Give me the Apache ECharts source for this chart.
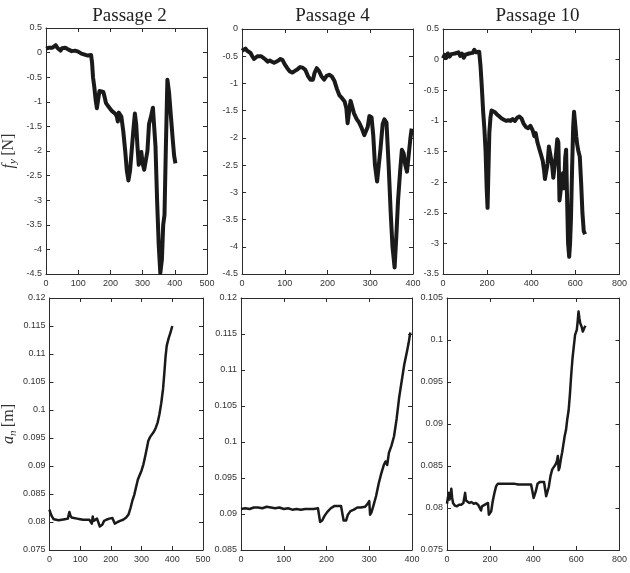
<!DOCTYPE html>
<html>
<head>
<meta charset="utf-8">
<script src="https://cdn.jsdelivr.net/npm/echarts@6/dist/echarts.min.js"></script>
<style>
  html, body { margin: 0; padding: 0; background: #fff; }
  #chart { width: 630px; height: 573px; }
</style>
</head>
<body>
<div id="chart"></div>
<script>
// panel titles (one per column)
var titles = ['Passage 2', 'Passage 4', 'Passage 10'];

// x axis ranges per column: [min, max, interval]
var xRanges = [[0, 500, 100], [0, 400, 100], [0, 800, 200]];
// y axis ranges, top row (f_y) and bottom row (a_n)
var fyRanges = [[-4.5, 0.5, 0.5], [-4.5, 0, 0.5], [-3.5, 0.5, 0.5]];
var anRanges = [[0.075, 0.12, 0.005], [0.085, 0.12, 0.005], [0.075, 0.105, 0.005]];

// f_y [N] traces, [time, force]
var fyPassage2 = [[0,0.08],[5,0.04],[10,0.1],[15,0.06],[20,0.1],[25,0.08],[30,0.15],[35,0.1],[40,0.08],[45,0.04],
  [50,0.09],[55,0.05],[60,0.1],[65,0.12],[70,0.06],[75,0.08],[80,0.03],[85,0.07],[90,0.04],[95,0.06],[100,0.02],
  [105,0.04],[110,-0.02],[115,0.01],[120,-0.04],[125,-0.02],[130,-0.06],[135,-0.03],[140,-0.05],[143,-0.2],[146,-0.5],
  [150,-0.7],[154,-0.95],[158,-1.13],[162,-0.95],[166,-0.78],[172,-0.82],[178,-0.8],[182,-0.9],[186,-1.02],[192,-1.08],
  [198,-1.1],[204,-1.18],[210,-1.2],[216,-1.25],[220,-1.3],[223,-1.4],[226,-1.22],[230,-1.2],[234,-1.3],[240,-1.6],
  [246,-2.0],[251,-2.4],[256,-2.6],[261,-2.4],[266,-2.0],[271,-1.6],[276,-1.24],[280,-1.45],[284,-1.9],[288,-2.28],
  [292,-2.1],[296,-2.02],[300,-2.25],[305,-2.38],[310,-2.35],[315,-2.0],[320,-1.45],[326,-1.3],[332,-1.12],[336,-1.15],
  [340,-1.9],[345,-3.0],[350,-3.9],[355,-4.48],[360,-4.2],[364,-3.5],[368,-3.3],[372,-2.0],[377,-0.55],[382,-0.8],
  [388,-1.3],[394,-1.8],[398,-2.1],[402,-2.25]];
var fyPassage4 = [[0,-0.4],[4,-0.37],[8,-0.36],[12,-0.4],[16,-0.42],[20,-0.44],[24,-0.5],[28,-0.55],[32,-0.55],[36,-0.5],
  [40,-0.52],[45,-0.5],[50,-0.53],[55,-0.56],[60,-0.6],[65,-0.58],[70,-0.6],[75,-0.62],[80,-0.6],[85,-0.58],[90,-0.55],
  [95,-0.57],[100,-0.65],[106,-0.72],[112,-0.78],[118,-0.8],[124,-0.77],[130,-0.74],[136,-0.7],[142,-0.71],[148,-0.75],
  [154,-0.86],[160,-0.93],[166,-0.93],[170,-0.8],[175,-0.72],[180,-0.77],[186,-0.87],[192,-0.93],[198,-0.86],[204,-0.84],
  [210,-0.87],[216,-0.95],[222,-1.1],[228,-1.22],[234,-1.27],[240,-1.33],[244,-1.45],[247,-1.73],[250,-1.55],[254,-1.32],
  [258,-1.35],[262,-1.55],[268,-1.65],[274,-1.72],[280,-1.82],[286,-1.95],[290,-1.97],[294,-1.8],[298,-1.6],[303,-1.62],
  [307,-1.95],[311,-2.5],[316,-2.8],[320,-2.5],[324,-2.2],[329,-1.75],[333,-1.66],[338,-1.72],[343,-2.5],[348,-3.4],
  [352,-4.0],[357,-4.38],[361,-3.8],[365,-3.15],[370,-2.6],[374,-2.22],[378,-2.28],[382,-2.5],[386,-2.62],[390,-2.6],
  [394,-2.0],[397,-1.83]];
var fyPassage10 = [[0,0.02],[8,0.08],[15,0.03],[22,0.1],[30,0.05],[38,0.09],[46,0.06],[54,0.1],[62,0.07],[70,0.12],
  [78,0.06],[86,0.1],[94,0.03],[102,0.08],[110,0.06],[118,0.1],[126,0.07],[134,0.11],[142,0.16],[150,0.12],[158,0.14],
  [164,0.13],[170,-0.1],[176,-0.45],[182,-0.85],[188,-1.15],[193,-1.5],[198,-2.1],[202,-2.42],[206,-1.8],[210,-1.2],
  [215,-0.95],[220,-0.83],[228,-0.82],[236,-0.86],[246,-0.9],[256,-0.93],[266,-0.96],[276,-0.98],[286,-1.0],[296,-0.99],
  [306,-1.0],[316,-0.97],[326,-1.0],[336,-0.95],[346,-0.93],[356,-0.96],[366,-1.05],[376,-1.1],[386,-1.12],[396,-1.08],
  [406,-1.15],[414,-1.25],[420,-1.2],[428,-1.35],[436,-1.45],[444,-1.55],[452,-1.65],[458,-1.8],[462,-1.95],[468,-1.92],
  [474,-1.7],[480,-1.42],[488,-1.45],[494,-1.7],[500,-1.93],[506,-1.9],[512,-1.55],[518,-1.3],[523,-1.35],[528,-2.3],
  [533,-2.15],[538,-2.0],[544,-1.85],[549,-2.1],[554,-1.6],[558,-1.47],[562,-2.2],[567,-3.0],[572,-3.22],[576,-3.0],
  [580,-2.6],[585,-1.8],[590,-1.1],[594,-0.85],[598,-1.0],[604,-1.25],[608,-1.38],[614,-1.5],[620,-1.58],[626,-2.0],
  [632,-2.5],[638,-2.8],[644,-2.85]];

// a_n [m] traces, [time, radius]
var anPassage2 = [[0,0.0822],[4,0.0815],[8,0.081],[14,0.0805],[20,0.0803],[30,0.0803],[40,0.0804],[50,0.0805],[60,0.0806],
  [63,0.0807],[65,0.0818],[68,0.0812],[72,0.0808],[80,0.0807],[90,0.0806],[100,0.0805],[110,0.0804],[120,0.0804],
  [130,0.0804],[136,0.0803],[138,0.0797],[141,0.081],[144,0.0802],[148,0.0804],[155,0.0806],[160,0.0805],[164,0.0792],
  [168,0.0791],[172,0.0795],[178,0.0802],[185,0.0804],[195,0.0806],[205,0.0807],[210,0.0806],[213,0.0797],[217,0.0795],
  [222,0.08],[230,0.0802],[240,0.0804],[250,0.0808],[258,0.0814],[264,0.0825],[270,0.0838],[276,0.0848],[282,0.0862],
  [288,0.0876],[294,0.0884],[300,0.0892],[306,0.0903],[312,0.0918],[318,0.0934],[322,0.0945],[328,0.0952],[334,0.0955],
  [340,0.0961],[346,0.0968],[352,0.0977],[358,0.0992],[364,0.1012],[370,0.1038],[374,0.1065],[378,0.1095],[382,0.1115],
  [388,0.1128],[394,0.1138],[400,0.115]];
var anPassage4 = [[0,0.0907],[10,0.0908],[20,0.0907],[30,0.0909],[40,0.0909],[50,0.0908],[60,0.091],[70,0.0909],
  [80,0.0908],[90,0.0909],[100,0.0907],[110,0.0908],[120,0.0906],[130,0.0907],[140,0.0906],[150,0.0907],[160,0.0907],
  [170,0.0907],[180,0.0908],[183,0.0907],[185,0.0889],[190,0.0891],[195,0.0897],[202,0.0903],[210,0.0908],[218,0.0911],
  [226,0.0911],[234,0.0911],[238,0.091],[240,0.0891],[246,0.0891],[250,0.0899],[256,0.0904],[264,0.0906],[272,0.0909],
  [280,0.0909],[290,0.091],[296,0.0914],[300,0.0918],[302,0.0899],[305,0.0902],[310,0.0912],[316,0.0925],[322,0.0942],
  [328,0.0956],[334,0.0968],[338,0.0973],[342,0.0968],[346,0.0985],[352,0.0995],[358,0.1008],[364,0.1032],[370,0.1062],
  [376,0.1085],[382,0.1108],[388,0.1125],[392,0.1137],[396,0.1152]];
var anPassage10 = [[0,0.0805],[4,0.0812],[8,0.0818],[12,0.081],[16,0.0815],[20,0.0823],[24,0.0812],[28,0.0806],
  [36,0.0803],[46,0.0802],[56,0.0804],[66,0.0804],[76,0.0806],[82,0.0805],[84,0.0818],[88,0.0809],[94,0.0807],
  [104,0.0806],[114,0.0807],[124,0.0805],[134,0.0806],[144,0.0804],[152,0.0805],[158,0.0797],[162,0.0802],[168,0.0804],
  [176,0.0804],[184,0.0805],[190,0.0806],[194,0.0792],[200,0.079],[205,0.0796],[212,0.0808],[220,0.0818],[228,0.0826],
  [236,0.0829],[250,0.0829],[270,0.0829],[290,0.0829],[310,0.0829],[330,0.0828],[350,0.0828],[370,0.0828],[390,0.0828],
  [398,0.0828],[402,0.0812],[406,0.0811],[412,0.082],[420,0.0829],[430,0.0831],[440,0.0831],[450,0.0831],[456,0.083],
  [460,0.0814],[466,0.0816],[472,0.0825],[480,0.0838],[488,0.0846],[496,0.0849],[504,0.0852],[510,0.0856],[514,0.0862],
  [518,0.0845],[522,0.0848],[528,0.0858],[534,0.0866],[540,0.0876],[546,0.0886],[552,0.0893],[558,0.0906],[564,0.0916],
  [570,0.0935],[576,0.0958],[582,0.0978],[588,0.0992],[594,0.1006],[598,0.1004],[602,0.1012],[606,0.1022],[610,0.1034],
  [614,0.1026],[618,0.102],[624,0.1016],[630,0.101],[636,0.1014],[642,0.1017]];

var fySeries = [fyPassage2, fyPassage4, fyPassage10];
var anSeries = [anPassage2, anPassage4, anPassage10];

var boxes = [
    { left: 42, top: 28, width: 165, height: 246 },
    { left: 242, top: 29, width: 171, height: 245 },
    { left: 443, top: 29, width: 179, height: 245 },
    { left: 42, top: 298, width: 161, height: 252 },
    { left: 241, top: 298, width: 171, height: 252 },
    { left: 447, top: 298, width: 175, height: 252 }
];

var labelFont = 'Liberation Sans';
var serif = 'Liberation Serif';
var axisColor = '#2b2b2b';

function fmt(v) {
    return String(parseFloat(v.toFixed(4)));
}

function makeAxis(type, pos, grid, range, showLabel) {
    return {
        type: 'value',
        gridIndex: grid,
        position: pos,
        min: range[0],
        max: range[1],
        interval: range[2],
        splitLine: { show: false },
        axisLine: { show: true, onZero: false, lineStyle: { color: axisColor, width: 1 } },
        axisTick: { show: true, inside: true, length: 4, lineStyle: { color: axisColor } },
        axisLabel: {
            show: showLabel,
            fontFamily: labelFont,
            fontSize: 9,
            color: '#333',
            margin: type == 'x' ? 5 : 4,
            formatter: fmt
        }
    };
}

var option = {
    backgroundColor: '#fff',
    animation: false,
    title: [],
    grid: [],
    xAxis: [],
    yAxis: [],
    series: []
};

for (var i = 0; i < 6; i++) {
    var col = i % 3;
    var isTop = i < 3;
    option.grid.push(boxes[i]);
    option.xAxis.push(makeAxis('x', 'bottom', i, xRanges[col], true));
    option.yAxis.push(makeAxis('y', 'left', i, isTop ? fyRanges[col] : anRanges[col], true));
}
// mirrored axes for the box ticks on top and right
for (var j = 0; j < 6; j++) {
    var c = j % 3;
    option.xAxis.push(makeAxis('x', 'top', j, xRanges[c], false));
    option.yAxis.push(makeAxis('y', 'right', j, j < 3 ? fyRanges[c] : anRanges[c], false));
}

// y axis names on the first column
var nameRich = {
    i: { fontFamily: serif, fontStyle: 'italic', fontSize: 16, color: '#333' },
    s: { fontFamily: serif, fontStyle: 'italic', fontSize: 11, color: '#333', verticalAlign: 'bottom', padding: [9, 0, 0, 0] },
    n: { fontFamily: serif, fontSize: 16, color: '#333' }
};
option.yAxis[0].name = '{i|f}{s|y} {n|[N]}';
option.yAxis[3].name = '{i|a}{s|n} {n|[m]}';
[0, 3].forEach(function (k) {
    option.yAxis[k].nameLocation = 'middle';
    option.yAxis[k].nameRotate = 90;
    option.yAxis[k].nameGap = 27;
    option.yAxis[k].nameTextStyle = { rich: nameRich };
});

for (var t = 0; t < 3; t++) {
    option.title.push({
        text: titles[t],
        left: boxes[t].left + boxes[t].width / 2,
        top: 2,
        textAlign: 'center',
        textStyle: { fontFamily: serif, fontWeight: 'normal', fontSize: 19, color: '#222' }
    });
}

for (var s = 0; s < 6; s++) {
    var cc = s % 3;
    option.series.push({
        type: 'line',
        xAxisIndex: s,
        yAxisIndex: s,
        data: s < 3 ? fySeries[cc] : anSeries[cc],
        showSymbol: false,
        lineStyle: { color: '#1a1a1a', width: s < 3 ? 4 : 2.5, join: 'round' },
        silent: true
    });
}

echarts.init(document.getElementById('chart')).setOption(option);
</script>
</body>
</html>
